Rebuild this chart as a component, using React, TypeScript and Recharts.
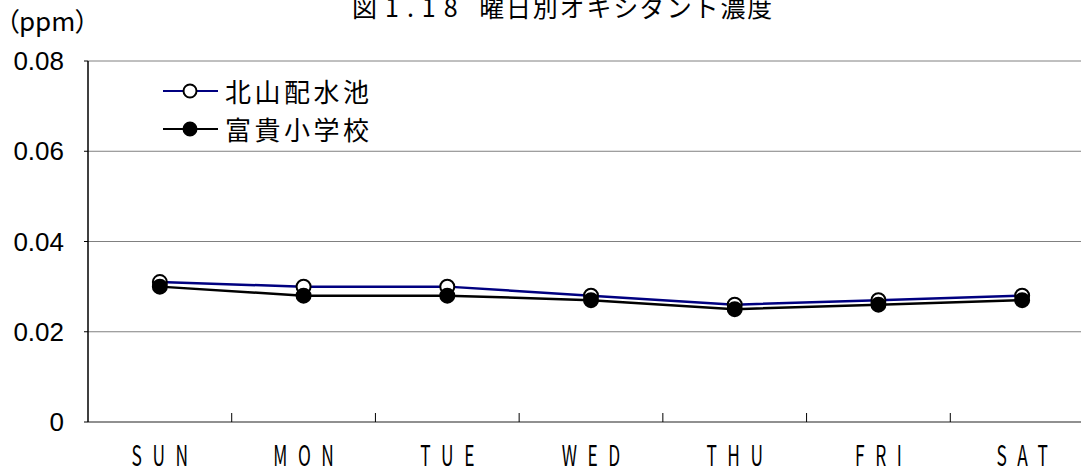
import React from 'react';
import { LineChart, Line, XAxis, YAxis, CartesianGrid } from 'recharts';

const days = ['SUN', 'MON', 'TUE', 'WED', 'THU', 'FRI', 'SAT'];
const kitayama = [0.031, 0.030, 0.030, 0.028, 0.026, 0.027, 0.028];
const fuki = [0.030, 0.028, 0.028, 0.027, 0.025, 0.026, 0.027];
const yTicks = [0, 0.02, 0.04, 0.06, 0.08];
const boundaryTicks = [1, 2, 3, 4, 5, 6];
const labelTicks = days.map((_, i) => i + 0.5);
const seriesNames = ['北山配水池', '富貴小学校'];
const titlePrefix = '図1.18 ';
const titleMain = '曜日別オキシダント濃度';
const unitText = '（ppm）';

const data = days.map((d, i) => ({ pos: i + 0.5, day: d, a: kitayama[i], b: fuki[i] }));

const CJK = '"Noto Sans CJK JP", "Noto Sans", sans-serif';
const LAT = '"Liberation Sans", Arial, sans-serif';

const DayTick = (props: any) => {
  const { x, y, payload } = props;
  const idx = Math.floor(payload.value);
  const label = days[idx] ?? '';
  const spacing = 17;
  const sx = 0.62;
  return (
    <text
      transform={`translate(${x + (spacing * sx) / 2},${y + 44}) scale(${sx},1)`}
      textAnchor="middle"
      fontSize={28}
      fontFamily={CJK}
      letterSpacing={spacing}
      fill="#000"
    >
      {label}
    </text>
  );
};

const EmptyTick = () => <g />;

const OpenDot = (props: any) => {
  const { cx, cy } = props;
  if (cx == null || cy == null) return null;
  return <circle cx={cx} cy={cy} r={7} fill="#fff" stroke="#000" strokeWidth={2} />;
};
const FilledDot = (props: any) => {
  const { cx, cy } = props;
  if (cx == null || cy == null) return null;
  return <circle cx={cx} cy={cy} r={7} fill="#000" stroke="#000" strokeWidth={2} />;
};

const LegendRow = ({ top, color, filled, label }: { top: number; color: string; filled: boolean; label: string }) => (
  <div style={{ position: 'absolute', left: 160, top, height: 30, display: 'flex', alignItems: 'center' }}>
    <svg width={60} height={30} style={{ display: 'block' }}>
      <line x1={3} y1={15} x2={58} y2={15} stroke={color} strokeWidth={2} />
      <circle cx={30} cy={15} r={6.5} fill={filled ? '#000' : '#fff'} stroke="#000" strokeWidth={2} />
    </svg>
    <span style={{ marginLeft: 5, fontFamily: CJK, fontSize: 26, letterSpacing: 3.5, lineHeight: '30px', color: '#000' }}>{label}</span>
  </div>
);

export default function App() {
  return (
    <div style={{ position: 'fixed', left: 0, top: 0, width: 1081, height: 475, overflow: 'hidden', background: '#fff' }}>
      <LineChart width={1110} height={475} data={data} margin={{ top: 61, right: 16, bottom: 0, left: 0 }}>
        <CartesianGrid vertical={false} stroke="#808080" xAxisId="b" />
        <XAxis
          xAxisId="b"
          type="number"
          dataKey="pos"
          domain={[0, 7]}
          ticks={boundaryTicks}
          interval={0}
          tick={<EmptyTick />}
          tickSize={9}
          mirror
          height={1}
          axisLine={{ stroke: '#808080', strokeWidth: 1.5 }}
          tickLine={{ stroke: '#000' }}
        />
        <XAxis
          xAxisId="l"
          type="number"
          dataKey="pos"
          domain={[0, 7]}
          ticks={labelTicks}
          interval={0}
          tick={<DayTick />}
          tickSize={0}
          tickMargin={0}
          height={53}
          axisLine={false}
          tickLine={false}
        />
        <YAxis
          type="number"
          domain={[0, 0.08]}
          ticks={yTicks}
          width={88}
          tickSize={4}
          tickMargin={20}
          interval={0}
          tickFormatter={(v: number) => (v === 0 ? '0' : v.toFixed(2))}
          tick={{ fontSize: 26, fill: '#000', fontFamily: LAT }}
          axisLine={{ stroke: '#000', strokeWidth: 1.5 }}
          tickLine={{ stroke: '#000' }}
        />
        <Line
          xAxisId="b"
          type="linear"
          dataKey="a"
          name={seriesNames[0]}
          stroke="#000080"
          strokeWidth={2.5}
          dot={<OpenDot />}
          activeDot={false}
          isAnimationActive={false}
        />
        <Line
          xAxisId="b"
          type="linear"
          dataKey="b"
          name={seriesNames[1]}
          stroke="#000"
          strokeWidth={2.5}
          dot={<FilledDot />}
          activeDot={false}
          isAnimationActive={false}
        />
      </LineChart>
      <div style={{ position: 'absolute', left: 352, top: -6, fontFamily: CJK, fontSize: 25, lineHeight: '25px', color: '#000', whiteSpace: 'pre' }}>
        <span style={{ letterSpacing: 8 }}>{titlePrefix}</span>
        <span style={{ letterSpacing: 1.8 }}>{titleMain}</span>
      </div>
      <div style={{ position: 'absolute', left: 6, top: 7, fontFamily: CJK, fontSize: 26, lineHeight: '26px', color: '#000', whiteSpace: 'nowrap', fontFeatureSettings: '"palt"' }}>
        {unitText}
      </div>
      <LegendRow top={76} color="#000080" filled={false} label={seriesNames[0]} />
      <LegendRow top={114} color="#000" filled={true} label={seriesNames[1]} />
    </div>
  );
}
